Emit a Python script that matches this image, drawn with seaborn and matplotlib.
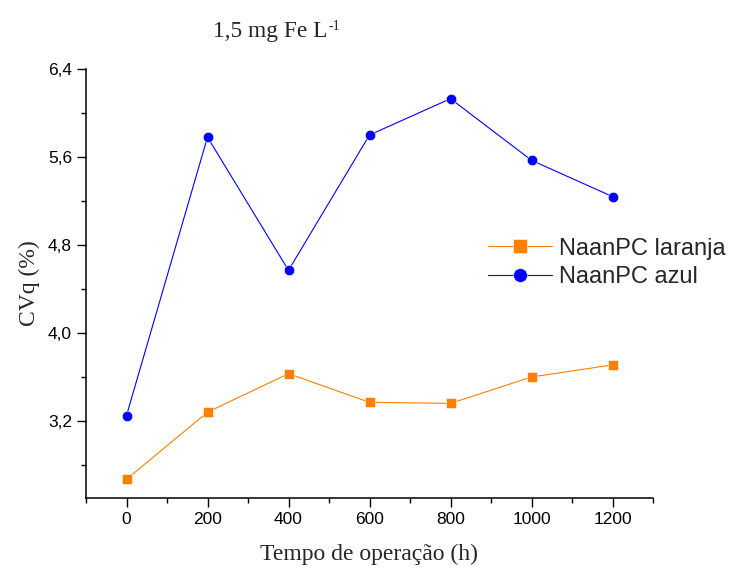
import pandas as pd
import seaborn as sns
import matplotlib.pyplot as plt
from matplotlib.ticker import MultipleLocator, FuncFormatter

# valores
tempo = [0, 200, 400, 600, 800, 1000, 1200]
cvq_laranja = [2.67, 3.28, 3.63, 3.37, 3.36, 3.60, 3.71]
cvq_azul = [3.25, 5.78, 4.57, 5.80, 6.13, 5.57, 5.24]
series = ["NaanPC laranja", "NaanPC azul"]
cores = {"NaanPC laranja": "#FF8000", "NaanPC azul": "#0000FF"}
marcadores = {"NaanPC laranja": "s", "NaanPC azul": "o"}

df = pd.DataFrame({
    "tempo": tempo * 2,
    "cvq": cvq_laranja + cvq_azul,
    "serie": [series[0]] * len(tempo) + [series[1]] * len(tempo),
})

sns.set_style("ticks")
plt.rcParams["font.family"] = ["Liberation Sans", "DejaVu Sans"]

fig = plt.figure(figsize=(7.35, 5.68), dpi=100)
ax = fig.add_axes([86 / 735, 1 - 498 / 568, (653 - 86) / 735, (498 - 69) / 568])

sns.lineplot(data=df, x="tempo", y="cvq", hue="serie", style="serie",
             palette=cores, markers=marcadores, dashes=False,
             linewidth=0.8, markersize=7.5, markeredgewidth=0.4,
             markeredgecolor="#ffffff", ax=ax)

ax.set_xlim(-100, 1300)
ax.set_ylim(2.5, 6.4)
ax.xaxis.set_major_locator(MultipleLocator(200))
ax.xaxis.set_minor_locator(MultipleLocator(100))
ax.yaxis.set_minor_locator(MultipleLocator(0.4))
ax.set_yticks([3.2, 4.0, 4.8, 5.6, 6.4])
ax.yaxis.set_major_formatter(FuncFormatter(lambda v, p: f"{v:.1f}".replace(".", ",")))

for s in ["top", "right"]:
    ax.spines[s].set_visible(False)
for s in ["left", "bottom"]:
    ax.spines[s].set_linewidth(1.1)
    ax.spines[s].set_color("black")
ax.tick_params(which="major", direction="out", length=6.5, width=1, labelsize=12.5, colors="black")
ax.tick_params(which="minor", direction="out", length=3.5, width=1, colors="black")

serif = ["Liberation Serif", "DejaVu Serif"]
ax.set_xlabel("Tempo de operação (h)", fontsize=17, family=serif, labelpad=12)
ax.set_ylabel("CVq (%)", fontsize=17, family=serif, labelpad=6)
titulo = fig.text(213 / 735, 1 - 37.5 / 568, "1,5 mg Fe L",
                  fontsize=16.8, family=serif, va="baseline", ha="left")

handles, labels = ax.get_legend_handles_labels()
leg = ax.legend(handles, labels, loc="center left", bbox_to_anchor=(488 / 735, 1 - 263 / 568),
                bbox_transform=fig.transFigure, frameon=False, fontsize=17,
                handlelength=2.7, handletextpad=0.3, labelspacing=0.28,
                borderpad=0, borderaxespad=0)
for h in leg.legend_handles:
    h.set_markersize(10)

# expoente "-1" colocado logo após o texto do título
fig.canvas.draw()
bb = titulo.get_window_extent()
fig.text((bb.x1 + 1) / 735, 1 - 20 / 568, "-1", fontsize=10, family=serif,
         va="top", ha="left")

fig.savefig("out.png", dpi=100)
